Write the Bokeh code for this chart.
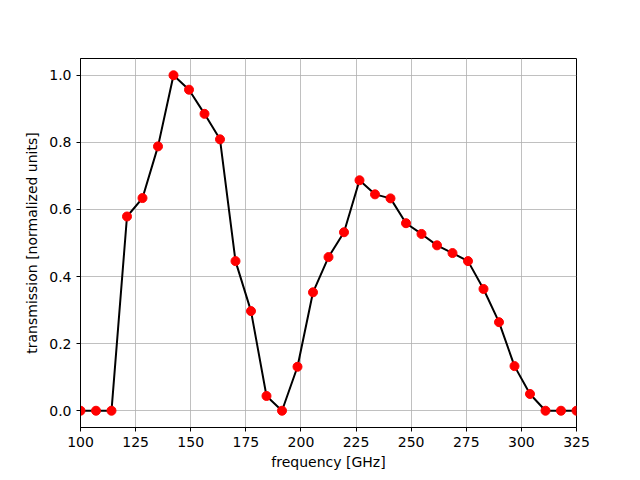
import numpy as np
from bokeh.plotting import figure
from bokeh.models import Range1d, FixedTicker, PrintfTickFormatter
from bokeh.embed import file_html
from bokeh.resources import INLINE

# 33 equally spaced frequencies from 100 to 325 GHz
frequency = np.linspace(100, 325, 33)
transmission = [0.0, 0.0, 0.0, 0.579, 0.634, 0.788, 1.0, 0.957, 0.885, 0.809,
                0.446, 0.297, 0.044, 0.0, 0.131, 0.353, 0.458, 0.532, 0.687,
                0.645, 0.633, 0.559, 0.527, 0.493, 0.470, 0.446, 0.363, 0.264,
                0.133, 0.050, 0.0, 0.0, 0.0]
x_ticks = [100, 125, 150, 175, 200, 225, 250, 275, 300, 325]
y_ticks = [0.0, 0.2, 0.4, 0.6, 0.8, 1.0]

p = figure(width=640, height=480, output_backend="svg", toolbar_location=None,
           x_range=Range1d(100, 325), y_range=Range1d(-0.05, 1.05),
           min_border_left=80, min_border_right=64, min_border_top=58,
           min_border_bottom=53)
p.background_fill_color = "white"
p.border_fill_color = "white"
p.outline_line_color = "black"
p.outline_line_width = 1
p.outline_line_alpha = 1

p.line(frequency, transmission, line_color="black", line_width=2)
p.scatter(frequency, transmission, size=9, fill_color="red", line_color="red",
          line_width=1)

font = "DejaVu Sans"
for ax in (p.xaxis, p.yaxis):
    ax.axis_line_color = "black"
    ax.major_tick_line_color = "black"
    ax.major_tick_out = 4
    ax.major_tick_in = 0
    ax.minor_tick_line_color = None
    ax.major_label_text_font = font
    ax.major_label_text_font_size = "14px"
    ax.major_label_text_color = "black"
    ax.axis_label_text_font = font
    ax.axis_label_text_font_size = "14px"
    ax.axis_label_text_font_style = "normal"
    ax.axis_label_text_color = "black"

p.xaxis.ticker = FixedTicker(ticks=x_ticks)
p.yaxis.ticker = FixedTicker(ticks=y_ticks)
p.yaxis.formatter = PrintfTickFormatter(format="%.1f")
p.xaxis.axis_label = "frequency [GHz]"
p.yaxis.axis_label = "transmission [normalized units]"
p.xaxis.axis_label_standoff = 4
p.yaxis.axis_label_standoff = 6

p.grid.grid_line_color = "#b0b0b0"
p.grid.grid_line_width = 0.8
p.xgrid.ticker = FixedTicker(ticks=x_ticks)
p.ygrid.ticker = FixedTicker(ticks=y_ticks)

open("out.html", "w").write(file_html(p, INLINE))
